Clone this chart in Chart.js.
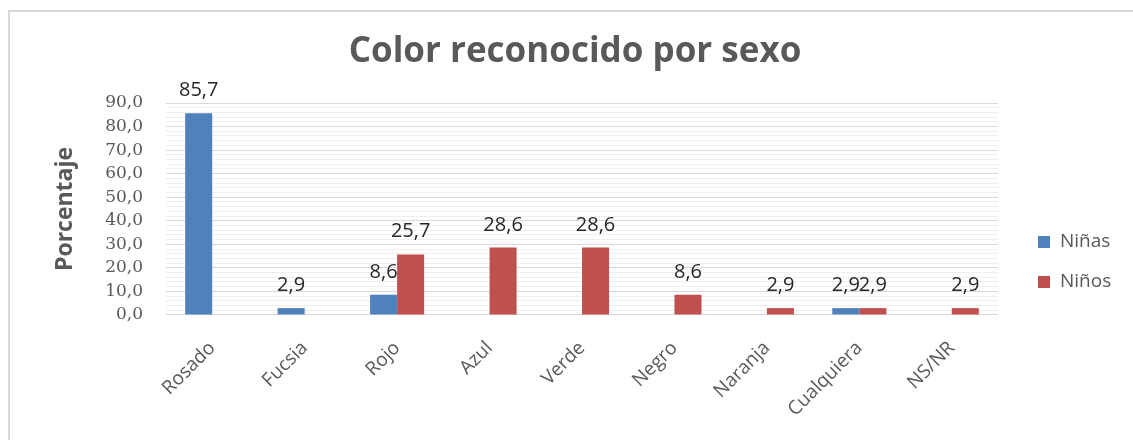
<!DOCTYPE html>
<html>
<head>
<meta charset="utf-8">
<script src="https://cdn.jsdelivr.net/npm/chart.js@4.4.1/dist/chart.umd.min.js"></script>
<style>
  html, body { margin: 0; padding: 0; background: #fff; }
  #wrap { position: relative; width: 1133px; height: 440px; overflow: hidden; }
  #frame { position: absolute; left: 8px; top: 10px; width: 1200px; height: 500px; border: 2px solid #d9d9d9; box-sizing: border-box; }
  canvas { position: absolute; left: 0; top: 0; }
</style>
</head>
<body>
<div id="wrap">
  <div id="frame"></div>
  <canvas id="chart" width="1133" height="440"></canvas>
</div>
<script>
// data
const categories = ['Rosado', 'Fucsia', 'Rojo', 'Azul', 'Verde', 'Negro', 'Naranja', 'Cualquiera', 'NS/NR'];
const ninas = [85.7, 2.9, 8.6, 0, 0, 0, 0, 2.9, 0];
const ninos = [0, 0, 25.7, 28.6, 28.6, 8.6, 2.9, 2.9, 2.9];
const yMin = 0;
const yMax = 90;
const yMajorStep = 10;
const yMinorStep = 2;

const GREY = '#595959';

// "85,7" style numbers
function fmt(v) {
    return v.toFixed(1).replace('.', ',');
}

// value labels above bars + the legend on the right
const extras = {
    id: 'extras',
    afterDatasetsDraw(chart) {
        const ctx = chart.ctx;
        ctx.save();
        ctx.font = '20px "Open Sans"';
        ctx.fillStyle = '#262626';
        ctx.textAlign = 'center';
        ctx.textBaseline = 'alphabetic';
        chart.data.datasets.forEach((ds, i) => {
            chart.getDatasetMeta(i).data.forEach((bar, j) => {
                const v = ds.data[j];
                if (!v) return; // no label on empty bars
                ctx.fillText(fmt(v), bar.x, bar.y - 17);
            });
        });

        // legend
        ctx.font = '19px "Open Sans"';
        ctx.textAlign = 'left';
        ctx.textBaseline = 'middle';
        const x0 = chart.chartArea.right + 40;
        chart.data.datasets.forEach((ds, i) => {
            const yc = 242 + i * 40;
            ctx.fillStyle = ds.backgroundColor;
            ctx.fillRect(x0, yc - 6, 12, 12);
            ctx.fillStyle = GREY;
            ctx.fillText(ds.label, x0 + 22, yc);
        });
        ctx.restore();
    }
};

const ctx = document.getElementById('chart');

new Chart(ctx, {
    type: 'bar',
    data: {
        labels: categories,
        datasets: [
            {
                label: 'Niñas',
                data: ninas,
                backgroundColor: '#4f81bd',
                borderWidth: 0,
            },
            {
                label: 'Niños',
                data: ninos,
                backgroundColor: '#c0504d',
                borderWidth: 0,
            }
        ]
    },
    plugins: [extras],
    options: {
        responsive: false,
        animation: false,
        layout: {
            padding: { left: 17, right: 0, top: 0, bottom: 5 }
        },
        datasets: {
            bar: {
                categoryPercentage: 0.585,
                barPercentage: 1.0,
            }
        },
        plugins: {
            legend: { display: false },
            tooltip: { enabled: false },
            title: {
                display: true,
                text: 'Color reconocido por sexo',
                color: GREY,
                font: { family: 'Open Sans', size: 35, weight: 'bold' },
                padding: { top: 31, bottom: 30 }
            }
        },
        scales: {
            x: {
                grid: { display: false },
                border: { display: false },
                ticks: {
                    color: GREY,
                    font: { family: 'Open Sans', size: 19 },
                    maxRotation: 45,
                    minRotation: 45,
                    padding: 14,
                }
            },
            y: {
                min: yMin,
                max: yMax,
                afterFit(scale) {
                    scale.width = 149;
                },
                border: { display: false },
                grid: {
                    drawTicks: false,
                    color: (c) => (c.tick.value % yMajorStep === 0 ? '#d9d9d9' : '#efefef'),
                    lineWidth: 1,
                },
                ticks: {
                    stepSize: yMinorStep,
                    color: GREY,
                    padding: 23,
                    font: { family: 'DejaVu Serif', size: 17 },
                    callback: (v) => (v % yMajorStep === 0 ? fmt(v) : ''),
                    autoSkip: false,
                },
                title: {
                    display: true,
                    text: 'Porcentaje',
                    color: GREY,
                    font: { family: 'Open Sans', size: 23, weight: 'bold' },
                    padding: { top: 35, bottom: 0 }
                }
            },
            // empty axis, only keeps room on the right for the legend
            spacer: {
                type: 'linear',
                position: 'right',
                display: true,
                afterFit(scale) {
                    scale.width = 135;
                },
                grid: { display: false },
                border: { display: false },
                ticks: { display: false }
            }
        }
    }
});
</script>
</body>
</html>
